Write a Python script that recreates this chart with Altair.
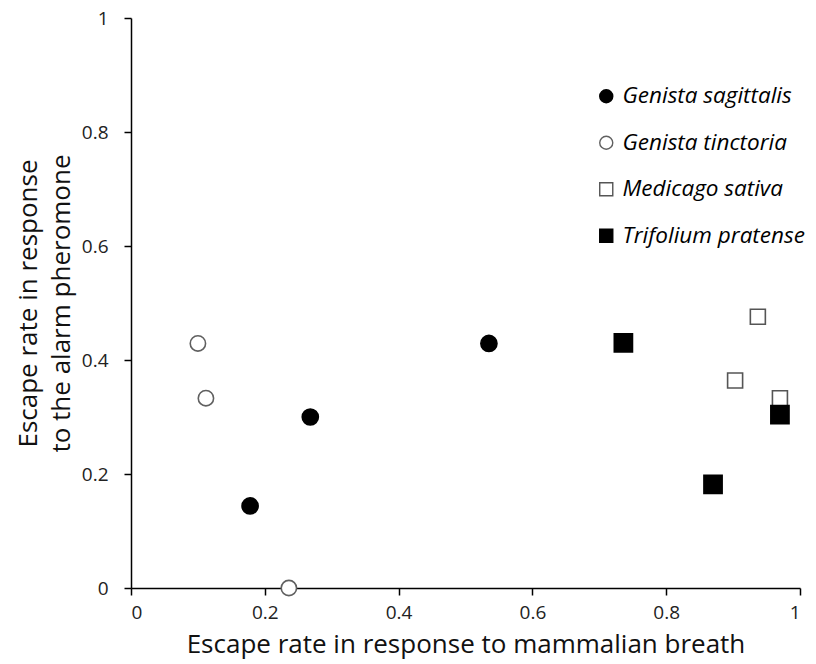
import altair as alt
import pandas as pd

species_names = ["Genista sagittalis", "Genista tinctoria", "Medicago sativa", "Trifolium pratense"]

gs_x = [0.178, 0.268, 0.535]
gs_y = [0.144, 0.300, 0.429]
gt_x = [0.100, 0.112, 0.236]
gt_y = [0.429, 0.333, 0.000]
ms_x = [0.937, 0.903, 0.970]
ms_y = [0.476, 0.364, 0.333]
tp_x = [0.736, 0.870, 0.970]
tp_y = [0.430, 0.182, 0.304]

marker_sizes = [260, 235, 225, 330]

rows = []
for name, xs, ys in zip(species_names, [gs_x, gt_x, ms_x, tp_x], [gs_y, gt_y, ms_y, tp_y]):
    for a, b in zip(xs, ys):
        rows.append({"species": name, "breath": a, "pheromone": b})
df = pd.DataFrame(rows)

FONT = "Open Sans"

leg = alt.Legend(title=None, orient="none", legendX=464, legendY=67,
                 labelFont=FONT, labelFontSize=22.5, labelFontStyle="italic",
                 labelColor="#000000", rowPadding=23.5, symbolSize=170, labelLimit=400,
                 symbolStrokeWidth=1.4, labelOffset=5)

base = alt.Chart(df).encode(
    x=alt.X("breath:Q", scale=alt.Scale(domain=[0, 1], nice=False),
            axis=alt.Axis(values=[0, 0.2, 0.4, 0.6, 0.8, 1], format="~g",
                          title="Escape rate in response to mammalian breath")),
    y=alt.Y("pheromone:Q", scale=alt.Scale(domain=[0, 1], nice=False),
            axis=alt.Axis(values=[0, 0.2, 0.4, 0.6, 0.8, 1], format="~g",
                          title=["Escape rate in response", "to the alarm pheromone"])),
    shape=alt.Shape("species:N", scale=alt.Scale(domain=species_names,
                    range=["circle", "circle", "square", "square"]), legend=leg),
    fill=alt.Fill("species:N", scale=alt.Scale(domain=species_names,
                  range=["#000000", "#ffffff", "#ffffff", "#000000"]), legend=leg),
    stroke=alt.Stroke("species:N", scale=alt.Scale(domain=species_names,
                      range=["#000000", "#606060", "#555555", "#000000"]), legend=leg),
)

layers = [
    base.transform_filter(alt.datum.species == name).mark_point(
        filled=False, opacity=1, strokeWidth=1.6, size=sz)
    for name, sz in zip(species_names, marker_sizes)
]

chart = alt.layer(*layers).properties(
    width=669, height=570,
    autosize=alt.AutoSizeParams(type="none"),
    padding={"left": 123, "top": 10, "right": 8, "bottom": 73},
).configure_view(stroke=None).configure_axis(
    grid=False, domainColor="#000000", domainWidth=1.5, tickColor="#000000", tickWidth=1.5,
    tickSize=7, labelFont=FONT, labelFontSize=19, labelColor="#222222",
    titleFont=FONT, titleFontSize=26, titleFontWeight="normal", titleColor="#111111",
).configure_axisX(labelPadding=8, titlePadding=9).configure_axisY(
    labelPadding=16, titlePadding=7, titleLineHeight=33)

chart.save("out.html", embed_options={"renderer": "svg", "actions": False})
